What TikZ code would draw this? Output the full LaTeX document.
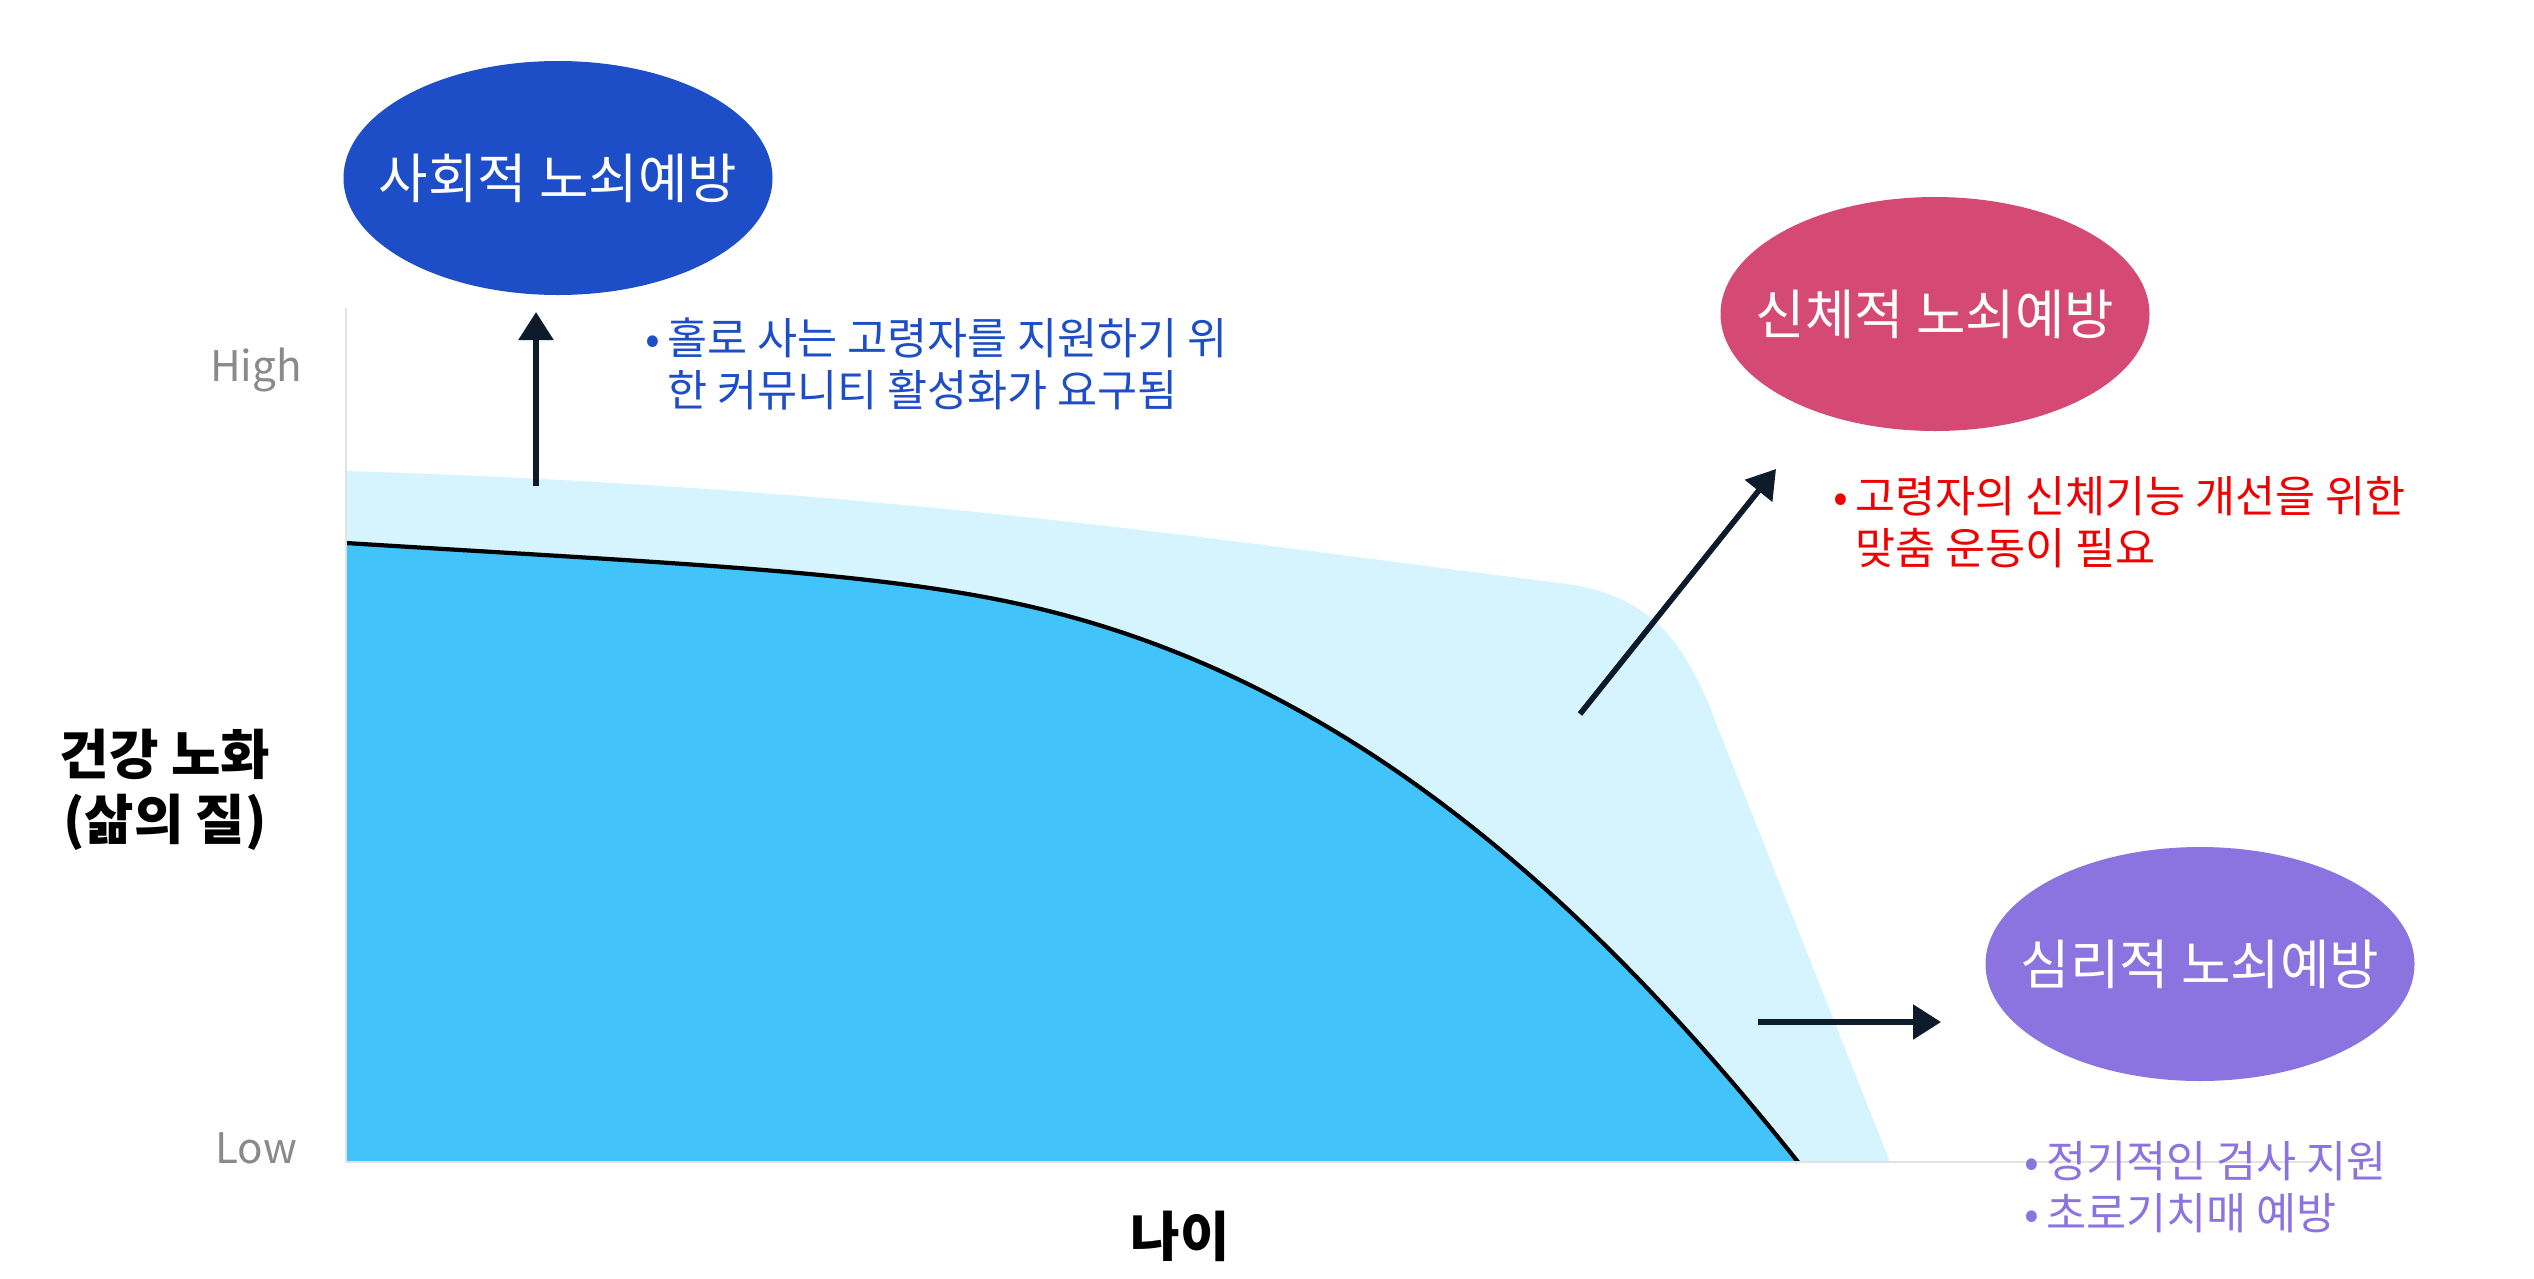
\documentclass[tikz,border=0pt]{standalone}
\usepackage{fontspec}
\setmainfont{Noto Sans CJK KR}
\usepackage{xcolor}
\usepackage{tikz}
\usetikzlibrary{arrows.meta, shapes.geometric}

\definecolor{lightsky}{HTML}{D6F4FE}
\definecolor{deepsky}{HTML}{42C4FA}
\definecolor{socblue}{HTML}{1D4EC8}
\definecolor{physpink}{HTML}{D54A74}
\definecolor{psypurple}{HTML}{8B73E0}
\definecolor{notered}{HTML}{F00000}
\definecolor{arrowcol}{HTML}{0D1B2A}
\definecolor{axisgray}{HTML}{E2E2E2}
\definecolor{lblgray}{HTML}{8A8A8A}

\newcommand{\bul}{\makebox[0.5em][l]{•}}

\begin{document}
\begin{tikzpicture}[
    bubble/.style={ellipse, fill=#1, minimum width=4.29cm, minimum height=2.34cm, inner sep=0pt},
    bubtext/.style={text=white, font=\fontsize{15.3}{18}\selectfont},
    note/.style={text=#1, font=\fontsize{12.4}{14.8}\selectfont, align=left, inner sep=0pt, anchor=west},
    axislabel/.style={text=lblgray, font=\fontsize{12}{14}\selectfont},
    axistitle/.style={font=\bfseries\fontsize{15.3}{18.5}\selectfont, align=center},
    arrow/.style={-{Triangle[length=0.28cm, width=0.34cm]}, line width=1.6pt, draw=arrowcol}
    ]
    \useasboundingbox (0,0) rectangle (25.34,-12.78);

    % areas under the curves
    \fill[lightsky] (3.46,-11.62) -- (3.46,-4.71)
        .. controls (9.0,-4.88) and (12.5,-5.45) .. (15.6,-5.83)
        .. controls (16.5,-5.94) and (16.8,-6.40) .. (17.07,-7.00)
        -- (18.90,-11.62) -- cycle;
    \fill[deepsky] (3.46,-11.62) -- (3.46,-5.43)
        .. controls (6.5,-5.62) and (8.5,-5.70) .. (10.0,-6.00)
        .. controls (13.0,-6.60) and (15.5,-8.50) .. (17.98,-11.62) -- cycle;
    \draw[line width=1.2pt, black] (3.46,-5.43)
        .. controls (6.5,-5.62) and (8.5,-5.70) .. (10.0,-6.00)
        .. controls (13.0,-6.60) and (15.5,-8.50) .. (17.98,-11.62);

    % axes
    \draw[axisgray, line width=0.6pt] (3.46,-3.08) -- (3.46,-11.62) -- (23.17,-11.62);
    \node[axislabel] (high) at (2.56,-3.70) {High};
    \node[axislabel] (low) at (2.56,-11.48) {Low};
    \node[axistitle] (ylabel) at (1.65,-7.90) {건강 노화\\(삶의 질)};
    \node[axistitle] (xlabel) at (11.80,-12.36) {나이};

    % three kinds of prevention
    \node[bubble=socblue] (social) at (5.58,-1.78) {};
    \node[bubtext] at (social) {사회적 노쇠예방};
    \node[bubble=physpink] (physical) at (19.35,-3.14) {};
    \node[bubtext] at (physical) {신체적 노쇠예방};
    \node[bubble=psypurple] (mental) at (22.00,-9.64) {};
    \node[bubtext] at (mental) {심리적 노쇠예방};

    \node[note=socblue] (socnote) at (6.45,-3.635) {\bul 홀로 사는 고령자를 지원하기 위\\\hspace*{0.5em}한 커뮤니티 활성화가 요구됨};
    \node[note=notered] (physnote) at (18.33,-5.22) {\bul 고령자의 신체기능 개선을 위한\\\hspace*{0.5em}맞춤 운동이 필요};
    \node[note=psypurple] (mentnote) at (20.24,-11.87) {\bul 정기적인 검사 지원\\\bul 초로기치매 예방};

    % arrows
    \coordinate (socfrom) at (5.36,-4.86);
    \coordinate (socto) at (5.36,-3.12);
    \coordinate (physfrom) at (15.80,-7.14);
    \coordinate (physto) at (17.76,-4.69);
    \coordinate (mentfrom) at (17.58,-10.22);
    \coordinate (mentto) at (19.41,-10.22);
    \draw[arrow] (socfrom) -- (socto);
    \draw[arrow] (physfrom) -- (physto);
    \draw[arrow] (mentfrom) -- (mentto);
\end{tikzpicture}
\end{document}
